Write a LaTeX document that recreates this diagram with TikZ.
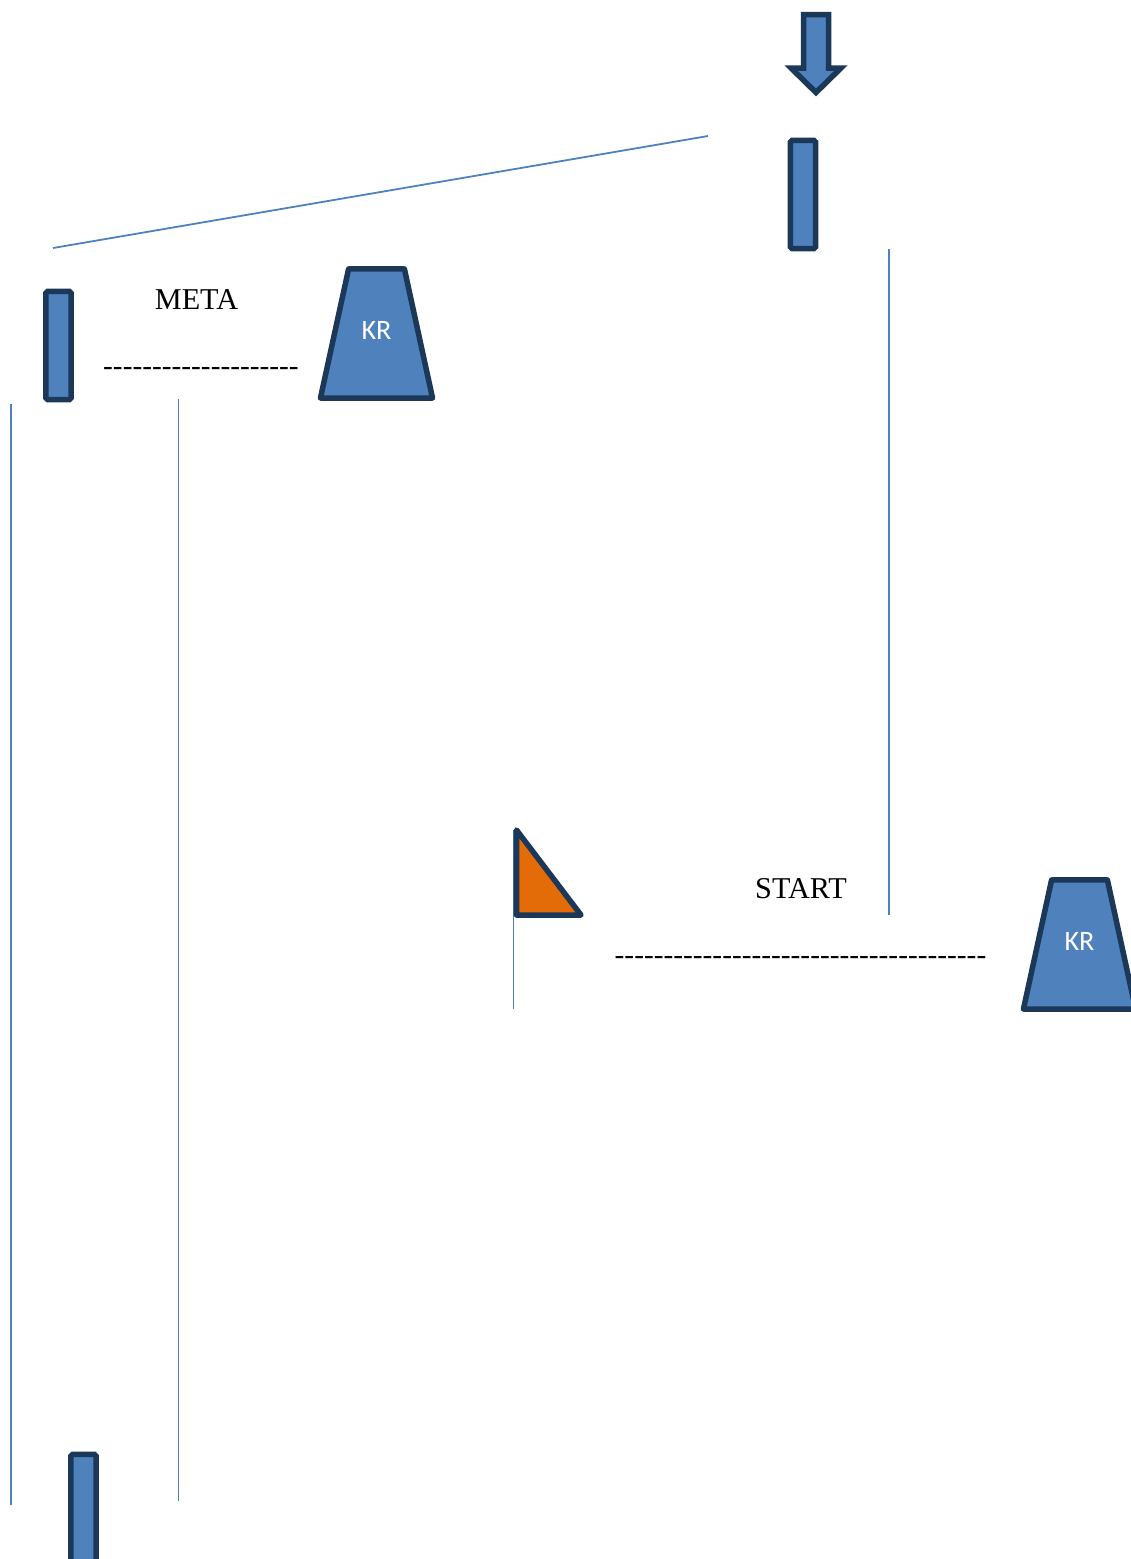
\documentclass[tikz,border=0pt]{standalone}
\usepackage{fontspec}
\newfontfamily\serifface{Liberation Serif}
\newfontfamily\labelface{Carlito}
\definecolor{shapeblue}{RGB}{79, 129, 189}
\definecolor{edgenavy}{RGB}{28, 56, 88}
\definecolor{flagorange}{RGB}{227, 108, 9}
\usetikzlibrary{
    shapes.geometric,
    positioning,
    calc
}
\tikzset{
    barbox/.style={draw=edgenavy, fill=shapeblue, line width=0.055cm, rounded corners=0.15mm, minimum width=0.25cm, minimum height=1.08cm, inner sep=0pt, outer sep=0pt},
    krbox/.style={draw=edgenavy, fill=shapeblue, line width=0.055cm, trapezium, trapezium stretches body=true, trapezium angle=42, minimum width=1.12cm, minimum height=1.29cm, inner sep=0pt, outer sep=0pt, line join=round, font=\labelface\fontsize{8}{10}\selectfont, text=white, text height=5.2pt, text depth=2pt},
    caption/.style={font=\serifface\fontsize{8.6}{10}\selectfont, text=black, inner sep=0pt},
    dashtext/.style={font=\serifface\fontsize{8.35}{10}\selectfont, text=black, inner sep=0pt},
    thinline/.style={draw=shapeblue, line width=0.018cm}
}

\begin{document}
\begin{tikzpicture}[x=0.01cm, y=-0.01cm]
            \clip (0,0) rectangle (1131,1559);

            % Thin lines
            \coordinate (slantA) at (53,248);
            \coordinate (slantB) at (708,136);
            \draw[thinline] (slantA) -- (slantB);
            \coordinate (rightA) at (889,249);
            \coordinate (rightB) at (889,915);
            \draw[thinline] (rightA) -- (rightB);
            \coordinate (leftA) at (11,404);
            \coordinate (leftB) at (11,1505);
            \draw[thinline] (leftA) -- (leftB);
            \coordinate (midA) at (178.5,399);
            \coordinate (midB) at (178.5,1501);
            \draw[thinline] (midA) -- (midB);
            \coordinate (poleA) at (513.5,830);
            \coordinate (poleB) at (513.5,1009);
            \draw[thinline] (poleA) -- (poleB);

            % Down arrow
            \draw[draw=edgenavy, fill=shapeblue, line width=0.055cm, miter limit=10]
                (803.5,14.5) -- (828.5,14.5) -- (828.5,68) -- (841,68) -- (816,92.5) -- (791,68) -- (803.5,68) -- cycle;

            % Bars
            \node[barbox] (topbar) at (803,194.5) {};
            \node[barbox] (metabar) at (58.5,345.5) {};
            \node[barbox] (lowbar) at (83.5,1508.5) {};

            % META block
            \node[caption] (metatext) at (196.5,300) {META};
            \node[dashtext] (metadash) at (201,371) {--------------------};
            \node[krbox] (metakr) at (376.5,333.5) {KR};

            % Flag
            \draw[draw=edgenavy, fill=flagorange, line width=0.055cm, line join=round]
                (516.5,830) -- (516.5,915) -- (581,915) -- cycle;

            % START block
            \node[caption] (starttext) at (801,889) {START};
            \node[dashtext] (startdash) at (800.5,960) {--------------------------------------};
            \node[krbox] (startkr) at (1079.5,944.5) {KR};
        \end{tikzpicture}
\end{document}
